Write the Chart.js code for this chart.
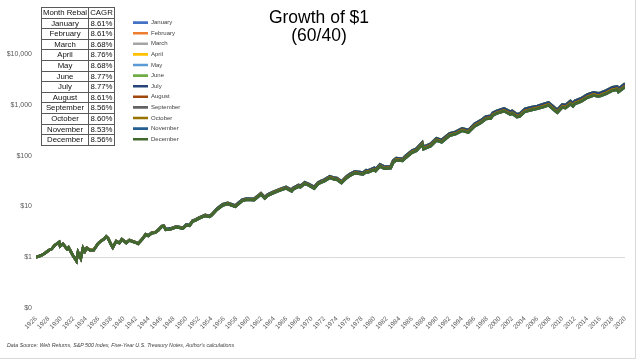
<!DOCTYPE html>
<html>
<head>
<meta charset="utf-8">
<script src="https://cdn.jsdelivr.net/npm/chart.js@4.4.0/dist/chart.umd.min.js"></script>
<style>
  html, body { margin: 0; padding: 0; background: #fff; }
  #wrap { position: relative; width: 640px; height: 361px; overflow: hidden; font-family: "Liberation Sans", Arial, sans-serif; }
  #frame { position: absolute; left: 0; top: 0; width: 635px; height: 358px; border-right: 1px solid #d9d9d9; border-bottom: 1px solid #d9d9d9; pointer-events: none; }
  #title { position: absolute; left: 0; top: 8px; width: 638px; text-align: center; font-size: 17.5px; line-height: 18.4px; color: #000; }
  #cagrTable { position: absolute; left: 41px; top: 7px; border-collapse: collapse; background: #fff; font-size: 7.8px; color: #111; will-change: transform; }
  #cagrTable td { border: 1px solid #595959; padding: 0; height: 9.6px; line-height: 9.6px; text-align: center; white-space: nowrap; }
  #cagrTable td.m { width: 46px; }
  #cagrTable td.c { width: 25px; }
  #note { position: absolute; left: 7px; top: 342px; font-size: 5.3px; line-height: 6px; font-style: italic; color: #404040; white-space: nowrap; }
</style>
</head>
<body>
<div id="wrap">
  <canvas id="growthChart" width="640" height="361"></canvas>
  <div id="title">Growth of $1<br>(60/40)</div>
  <table id="cagrTable"></table>
  <div id="note">Data Source: Web Returns, S&amp;P 500 Index, Five-Year U.S. Treasury Notes, Author's calculations</div>
  <div id="frame"></div>
</div>
<script>
/* ===== data ===== */
const months = ["January", "February", "March", "April", "May", "June",
  "July", "August", "September", "October", "November", "December"];
const cagr = ["8.61%", "8.61%", "8.68%", "8.76%", "8.68%", "8.77%",
  "8.77%", "8.61%", "8.56%", "8.60%", "8.53%", "8.56%"];

const yTicks = [0.1, 1, 10, 100, 1000, 10000];
const yTickLabels = ["$0", "$1", "$10", "$100", "$1,000", "$10,000"];

const years = [
  1926.0, 1926.8, 1927.5, 1928.0, 1928.5, 1929.0, 1929.7, 1929.85, 1930.3, 1930.95,
  1931.2, 1931.9, 1932.45, 1932.7, 1933.15, 1933.5, 1933.8, 1934.1, 1934.6, 1935.2,
  1935.9, 1936.3, 1936.9, 1937.2, 1937.5, 1937.95, 1938.25, 1938.8, 1939.3, 1939.7,
  1940.4, 1940.9, 1941.9, 1942.3, 1943.0, 1943.5, 1943.9, 1944.5, 1945.0, 1945.5,
  1946.1, 1946.4, 1946.7, 1947.5, 1948.4, 1949.45, 1950.0, 1950.5, 1951.0, 1951.5,
  1952.0, 1953.0, 1953.7, 1954.0, 1954.9, 1955.8, 1956.6, 1957.8, 1958.9, 1959.6,
  1960.8, 1961.9, 1962.5, 1963.0, 1964.0, 1965.0, 1965.9, 1966.8, 1967.0, 1967.9,
  1968.2, 1968.9, 1969.5, 1970.4, 1971.0, 1971.5, 1972.0, 1972.9, 1973.5, 1974.0,
  1974.75, 1975.5, 1976.0, 1976.9, 1978.2, 1978.7, 1979.0, 1980.0, 1980.2, 1980.9,
  1981.6, 1982.6, 1983.0, 1983.5, 1984.5, 1985.0, 1986.0, 1986.7, 1987.65, 1987.85,
  1989.0, 1989.9, 1990.75, 1992.0, 1993.0, 1994.0, 1995.0, 1996.0, 1997.0, 1997.8,
  1998.6, 1998.9, 1999.5, 2000.7, 2001.7, 2002.0, 2002.75, 2003.2, 2004.0, 2005.0,
  2006.0, 2007.0, 2007.8, 2008.8, 2009.2, 2010.0, 2010.5, 2011.3, 2011.7, 2012.0,
  2013.0, 2014.0, 2015.0, 2015.7, 2016.1, 2017.0, 2018.0, 2018.75, 2018.95, 2020.0
];

// upper edge of the band (Mar-Jul rebalancing)
const valuesHigh = [
  1.00, 1.08, 1.22, 1.36, 1.45, 1.73, 1.99, 1.66, 1.83, 1.46,
  1.56, 1.08, 0.85, 1.26, 0.96, 1.53, 1.31, 1.53, 1.39, 1.39,
  1.87, 2.07, 2.33, 2.58, 2.38, 1.82, 1.57, 2.08, 1.93, 2.28,
  1.95, 2.19, 1.98, 1.88, 2.34, 2.85, 2.70, 3.06, 3.11, 3.47,
  4.14, 4.19, 3.58, 3.69, 4.05, 3.80, 4.42, 4.31, 5.24, 5.55,
  6.02, 6.80, 6.50, 6.91, 9.09, 11.0, 11.7, 10.4, 13.5, 14.3,
  14.1, 18.2, 15.2, 17.3, 19.8, 22.1, 24.2, 21.2, 22.9, 26.4,
  25.5, 29.9, 27.8, 24.2, 29.6, 31.6, 33.7, 39.5, 36.9, 36.4,
  31.1, 38.5, 42.8, 49.2, 46.6, 51.9, 50.9, 57.3, 54.1, 66.9,
  60.6, 61.7, 79.9, 89.5, 86.4, 99.2, 126, 137, 182, 148,
  172, 220, 204, 274, 296, 345, 318, 421, 498, 590,
  607, 694, 760, 847, 729, 762, 653, 670, 829, 895,
  951, 1039, 1117, 877, 801, 1021, 988, 1187, 1078, 1199,
  1343, 1598, 1766, 1690, 1724, 1913, 2215, 2305, 2073, 2608
];

// middle of the band (Jan, Feb, Aug, Oct)
const valuesMid = [
  1.00, 1.08, 1.22, 1.36, 1.45, 1.72, 1.98, 1.65, 1.82, 1.45,
  1.55, 1.07, 0.84, 1.25, 0.95, 1.52, 1.30, 1.52, 1.38, 1.38,
  1.85, 2.05, 2.30, 2.55, 2.35, 1.80, 1.55, 2.05, 1.90, 2.25,
  1.92, 2.15, 1.95, 1.85, 2.30, 2.80, 2.65, 3.00, 3.05, 3.40,
  4.05, 4.10, 3.50, 3.60, 3.95, 3.70, 4.30, 4.20, 5.10, 5.40,
  5.85, 6.60, 6.30, 6.70, 8.80, 10.6, 11.3, 10.0, 13.0, 13.8,
  13.6, 17.5, 14.6, 16.6, 19.0, 21.2, 23.2, 20.3, 21.9, 25.2,
  24.3, 28.5, 26.5, 23.0, 28.2, 30.0, 32.0, 37.5, 35.0, 34.5,
  29.5, 36.5, 40.5, 46.5, 44.0, 49.0, 48.0, 54.0, 51.0, 63.0,
  57.0, 58.0, 75.0, 84.0, 81.0, 93.0, 118, 128, 170, 138,
  160, 205, 190, 255, 275, 320, 295, 390, 460, 545,
  560, 640, 700, 780, 670, 700, 600, 615, 760, 820,
  870, 950, 1020, 800, 730, 930, 900, 1080, 980, 1090,
  1220, 1450, 1600, 1530, 1560, 1730, 2000, 2080, 1870, 2350
];

// lower edge of the band (Sep, Nov, Dec)
const valuesLow = [
  1.00, 1.08, 1.22, 1.36, 1.45, 1.72, 1.98, 1.65, 1.82, 1.45,
  1.55, 1.07, 0.84, 1.25, 0.95, 1.51, 1.30, 1.51, 1.37, 1.37,
  1.84, 2.04, 2.29, 2.53, 2.34, 1.79, 1.54, 2.04, 1.89, 2.23,
  1.90, 2.13, 1.93, 1.83, 2.28, 2.77, 2.62, 2.97, 3.02, 3.36,
  4.01, 4.05, 3.46, 3.56, 3.90, 3.65, 4.24, 4.14, 5.03, 5.32,
  5.77, 6.50, 6.20, 6.60, 8.66, 10.4, 11.1, 9.83, 12.8, 13.5,
  13.3, 17.2, 14.3, 16.3, 18.6, 20.7, 22.7, 19.8, 21.4, 24.6,
  23.7, 27.8, 25.9, 22.4, 27.5, 29.3, 31.2, 36.5, 34.1, 33.6,
  28.7, 35.5, 39.4, 45.2, 42.7, 47.6, 46.6, 52.4, 49.5, 61.1,
  55.3, 56.2, 72.7, 81.4, 78.4, 90.0, 114, 124, 164, 133,
  154, 198, 183, 246, 265, 308, 284, 375, 442, 524,
  538, 615, 672, 748, 642, 671, 575, 589, 728, 785,
  832, 908, 975, 764, 697, 888, 859, 1030, 935, 1039,
  1163, 1381, 1523, 1456, 1484, 1645, 1901, 1976, 1776, 2231
];

const monthSeries = [valuesMid, valuesMid, valuesHigh, valuesHigh, valuesHigh, valuesHigh,
  valuesHigh, valuesMid, valuesLow, valuesMid, valuesLow, valuesLow];

/* ===== styles ===== */
const colors = ["#4472C4", "#ED7D31", "#A5A5A5", "#FFC000", "#5B9BD5", "#70AD47",
  "#264478", "#9E480E", "#636363", "#997300", "#255E91", "#43682B"];

/* ===== CAGR table ===== */
function buildTable() {
  const table = document.getElementById("cagrTable");
  let html = '<tr><td class="m">Month Rebal</td><td class="c">CAGR</td></tr>';
  months.forEach((m, i) => {
    html += `<tr><td class="m">${m}</td><td class="c">${cagr[i]}</td></tr>`;
  });
  table.innerHTML = html;
}
buildTable();

/* ===== chart ===== */
Chart.defaults.font.family = '"Liberation Sans", Arial, sans-serif';
Chart.defaults.color = "#595959";

// put the legend in the free space right of the table
const legendSpot = {
  id: "legendSpot",
  afterLayout(chart) {
    const lg = chart.legend;
    lg.left = 128.4;
    lg.top = 15;
    lg.right = lg.left + lg.width;
    lg.bottom = lg.top + lg.height;
  }
};

new Chart(document.getElementById("growthChart"), {
  type: "line",
  data: {
    datasets: months.map((m, i) => ({
      label: m,
      data: years.map((x, j) => ({ x: x, y: monthSeries[i][j] })),
      borderColor: colors[i],
      backgroundColor: colors[i],
      borderWidth: 2.6,
      pointRadius: 0,
      tension: 0,
      order: months.length - i
    }))
  },
  options: {
    responsive: false,
    animation: false,
    layout: { padding: { top: 54, right: 15, left: 0, bottom: 0 } },
    plugins: {
      tooltip: { enabled: false },
      legend: {
        position: "chartArea",
        align: "start",
        labels: {
          usePointStyle: true,
          pointStyle: "line",
          pointStyleWidth: 15,
          padding: 4.6,
          color: "#404040",
          font: { size: 6 },
          sort: (a, b) => a.datasetIndex - b.datasetIndex
        }
      }
    },
    scales: {
      x: {
        type: "linear",
        min: 1926,
        max: 2020,
        grid: { display: false },
        border: { display: false },
        ticks: {
          stepSize: 2,
          autoSkip: false,
          maxRotation: 45,
          minRotation: 45,
          padding: -1,
          font: { size: 6.5 },
          callback: v => String(v)
        },
        afterFit: scale => { scale.height = 53; }
      },
      y: {
        type: "logarithmic",
        min: 0.1,
        max: 10000,
        grid: {
          drawTicks: false,
          color: ctx => (ctx.tick && ctx.tick.value === 1 ? "#d9d9d9" : "transparent")
        },
        border: { display: false },
        ticks: {
          padding: 4,
          font: { size: 7 },
          callback: v => yTickLabels[yTicks.indexOf(v)]
        },
        afterBuildTicks: scale => { scale.ticks = yTicks.map(v => ({ value: v })); },
        afterFit: scale => { scale.width = 36; }
      }
    }
  },
  plugins: [legendSpot]
});
</script>
</body>
</html>
